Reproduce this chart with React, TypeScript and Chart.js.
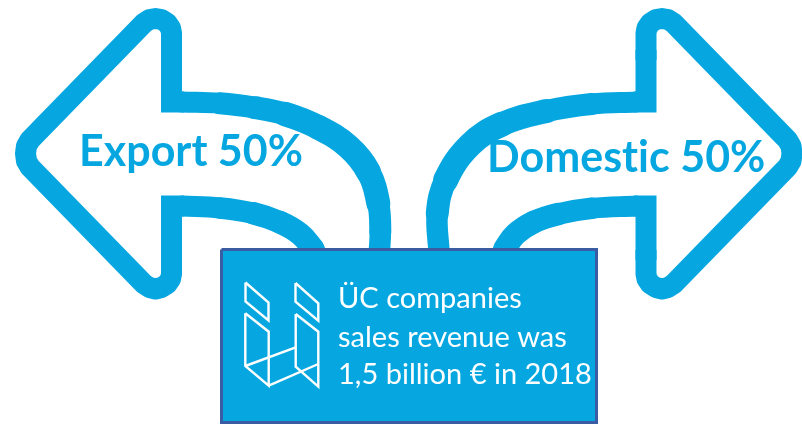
import React, { useEffect, useRef } from "react";
import { Chart, registerables } from "chart.js";

Chart.register(...registerables);

type Pt = { x: number; y: number };
const pts = (list: number[][]): Pt[] => list.map(([x, y]) => ({ x, y }));

const BLUE = "#06A7E0";
const BORDER = "#3A5CA3";

// Diagram space is the 802 x 425 picture.
const leftHead = [[171.5, 60], [171.5, 33], [170.5, 28], [167, 23], [161.5, 19.5], [155.5, 18.5], [149.5, 19.5], [144, 23], [30, 140], [26.5, 146], [25.5, 153.5], [26.5, 161], [30, 167], [144, 284], [149.5, 287.5], [155.5, 289], [161.5, 287.5], [167, 284], [170.5, 279], [171.5, 274], [171.5, 250]];
const leftNotchTop = [[171.5, 50], [171.5, 102], [184, 102.1]];
const leftNotchBottom = [[171.5, 260], [171.5, 206], [184, 206.1]];
const leftUpperCurve = [[182, 102], [220, 103.3], [255, 107.7], [285, 114], [318.3, 127.3], [348.3, 146.7], [368.3, 171.7], [378.3, 203.3], [380.3, 231.7], [379.3, 252]];
const leftUpperWidths = [21, 22, 23, 24.5, 25, 25, 24, 22, 21.5];
const leftLowerCurve = [[182, 206], [220, 208], [253.3, 213.3], [280, 222.3], [300, 234], [312.7, 248.3], [315, 252]];
const leftLowerWidths = [21, 21.5, 22.5, 23, 23, 22];

const rightHead = [[646, 60], [646, 33], [647, 28], [650.5, 23], [656, 19.5], [662, 18.5], [668, 19.5], [673.5, 23], [787.5, 140], [791, 146], [792, 153.5], [791, 161], [787.5, 167], [673.5, 284], [668, 287.5], [662, 289], [656, 287.5], [650.5, 284], [647, 279], [646, 274], [646, 250]];
const rightNotchTop = [[646, 50], [646, 102], [634, 102.1]];
const rightNotchBottom = [[646, 260], [646, 206], [634, 206.1]];
const rightUpperCurve = [[636.7, 102], [591.7, 104], [546.7, 111], [501.7, 124.3], [470, 145], [445.7, 180], [437.3, 213.3], [439, 252]];
const rightUpperWidths = [21, 22, 24, 25, 25, 23, 21.5];
const rightLowerCurve = [[636.7, 206], [591.7, 208.3], [558.3, 214], [533.3, 222.3], [515.7, 234], [505, 248.3], [503, 252]];
const rightLowerWidths = [21, 21.5, 22.5, 23, 23, 22];

const box = [[221.5, 249.5], [596.5, 249.5], [596.5, 422.5], [221.5, 422.5], [221.5, 249.5]];

const logoParts = [
  [[245.5, 282.5], [268.5, 302.5], [268.5, 320.5], [245.5, 301.5], [245.5, 282.5]],
  [[295.5, 283], [318.3, 303.3], [318.3, 320.7], [295.5, 301.7], [295.5, 283]],
  [[245.3, 313.3], [268.7, 331.7], [268.7, 385.7], [245.3, 366], [245.3, 313.3]],
  [[295.7, 314], [318.3, 331.7], [318.3, 386.7], [295.7, 366.7], [295.7, 314]],
  [[245.3, 366], [295.7, 347.3]],
  [[268.7, 385.7], [318.3, 364]],
];

const labels = ["Export 50%", "Domestic 50%", "ÜC companies", "sales revenue was", "1,5 billion € in 2018"];
const labelX = [79, 487, 338, 338, 338];
const labelBaseline = [166, 172, 308, 346.5, 384];
const labelFont = ["bold 43px Lato", "bold 43px Lato", "29px Lato", "29px Lato", "29px Lato"];
const labelColor = [BLUE, BLUE, "#FFFFFF", "#FFFFFF", "#FFFFFF"];

const textPlugin = {
  id: "diagramText",
  afterDatasetsDraw(chart: any) {
    const { ctx, scales } = chart;
    ctx.save();
    ctx.textAlign = "left";
    ctx.textBaseline = "alphabetic";
    ctx.letterSpacing = "0.01px";
    labels.forEach((text, i) => {
      ctx.font = labelFont[i];
      ctx.fillStyle = labelColor[i];
      ctx.fillText(text, scales.x.getPixelForValue(labelX[i]), scales.y.getPixelForValue(labelBaseline[i]));
    });
    ctx.restore();
  },
};

const stroke = (data: number[][], extra: object = {}) => ({
  data: pts(data),
  showLine: true,
  fill: false,
  pointRadius: 0,
  borderColor: BLUE,
  borderWidth: 21,
  tension: 0,
  ...extra,
});

const curve = (data: number[][], widths: number[]) =>
  stroke(data, {
    tension: 0.4,
    borderCapStyle: "round",
    segment: { borderWidth: (ctx: any) => widths[ctx.p0DataIndex] },
  });

export default function App() {
  const ref = useRef<HTMLCanvasElement>(null);
  useEffect(() => {
    const chart = new Chart(ref.current as HTMLCanvasElement, {
      type: "scatter",
      data: {
        datasets: [
          ...logoParts.map((p) => stroke(p, { borderColor: "#FFFFFF", borderWidth: 2.4, borderJoinStyle: "miter" })),
          stroke(box, { borderColor: BORDER, borderWidth: 3, backgroundColor: BLUE, fill: "shape", borderJoinStyle: "miter" }),
          curve(leftUpperCurve, leftUpperWidths),
          curve(leftLowerCurve, leftLowerWidths),
          curve(rightUpperCurve, rightUpperWidths),
          curve(rightLowerCurve, rightLowerWidths),
          stroke(leftNotchTop, { borderJoinStyle: "miter" }),
          stroke(leftNotchBottom, { borderJoinStyle: "miter" }),
          stroke(rightNotchTop, { borderJoinStyle: "miter" }),
          stroke(rightNotchBottom, { borderJoinStyle: "miter" }),
          stroke(leftHead, { borderJoinStyle: "round" }),
          stroke(rightHead, { borderJoinStyle: "round" }),
        ],
      } as any,
      options: {
        animation: false,
        responsive: false,
        devicePixelRatio: 1,
        layout: { padding: 0 },
        plugins: { legend: { display: false }, tooltip: { enabled: false }, title: { display: false } },
        scales: {
          x: { type: "linear", display: false, min: 0, max: 802 },
          y: { type: "linear", display: false, min: 0, max: 425, reverse: true },
        },
      },
      plugins: [textPlugin],
    } as any);
    return () => chart.destroy();
  }, []);
  return (
    <canvas
      ref={ref}
      width={802}
      height={425}
      style={{ position: "fixed", left: 0, top: 0, width: 802, height: 425, display: "block" }}
    />
  );
}
